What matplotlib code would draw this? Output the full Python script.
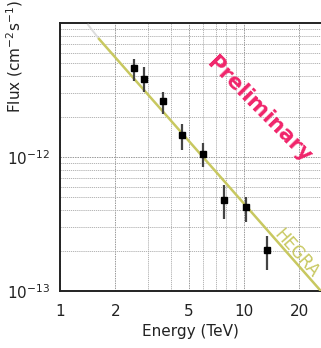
import numpy as np
import matplotlib.pyplot as plt
from matplotlib.ticker import FixedLocator, NullFormatter

plt.rcParams['font.family'] = ['DejaVu Sans']
plt.rcParams['mathtext.default'] = 'regular'

# === data ===
energy = [2.52, 2.86, 3.63, 4.60, 5.98, 7.79, 10.25, 13.3]           # TeV
flux = [4.65e-12, 3.82e-12, 2.62e-12, 1.46e-12, 1.05e-12, 4.75e-13, 4.20e-13, 2.03e-13]
flux_hi = [5.4e-12, 4.67e-12, 3.08e-12, 1.77e-12, 1.28e-12, 6.16e-13, 5.0e-13, 2.59e-13]
flux_lo = [3.66e-12, 3.08e-12, 2.10e-12, 1.13e-12, 8.4e-13, 3.42e-13, 3.25e-13, 1.44e-13]

# HEGRA power law (end points)
hegra_E = [1.63, 26.5]
hegra_flux = [7.6e-12, 0.98e-13]
hegra_fade_E = [1.42, 1.63]
hegra_fade_flux = [9.7e-12, 7.6e-12]

x_ticks = [1, 2, 5, 10, 20]
x_minor = [3, 4, 6, 7, 8, 9]
y_ticks = [1e-13, 1e-12]
y_ticklabels = ['10$^{-13}$', '10$^{-12}$']

fig = plt.figure(figsize=(3.21, 3.48), dpi=100)
ax = fig.add_axes([60 / 321, 57 / 348, 261 / 321, 268 / 348])
ax.set_xscale('log')
ax.set_yscale('log')
ax.set_xlim(1, 26.2)
ax.set_ylim(1e-13, 1e-11)

# === grid ===
ax.xaxis.set_major_locator(FixedLocator(x_ticks))
ax.xaxis.set_minor_locator(FixedLocator(x_minor))
ax.set_xticklabels([str(t) for t in x_ticks])
ax.xaxis.set_minor_formatter(NullFormatter())
ax.yaxis.set_major_locator(FixedLocator(y_ticks))
ax.set_yticklabels(y_ticklabels)
ax.yaxis.set_minor_formatter(NullFormatter())
ax.grid(True, which='major', color='#999999', linestyle=(0, (1.5, 1)), linewidth=0.7)
ax.grid(True, which='minor', color='#aaaaaa', linestyle=(0, (1.5, 1)), linewidth=0.6)
ax.tick_params(which='both', length=0)
ax.tick_params(axis='x', pad=9, labelsize=11, colors='#222222')
ax.tick_params(axis='y', pad=7, labelsize=11, colors='#222222')

for side in ['left', 'bottom', 'top']:
    ax.spines[side].set_color('#222222')
    ax.spines[side].set_linewidth(1.4)
ax.spines['right'].set_visible(False)

# === HEGRA line ===
ax.plot(hegra_fade_E, hegra_fade_flux, color='#dddddd', lw=1.4, zorder=3)
ax.plot(hegra_E, hegra_flux, color='#c8c860', lw=1.8, zorder=3, clip_on=True)

# === data points ===
yerr = [np.array(flux) - np.array(flux_lo), np.array(flux_hi) - np.array(flux)]
ax.errorbar(energy, flux, yerr=yerr, fmt='s', color='black', markersize=4.5,
            ecolor='#444444', elinewidth=1.6, capsize=0, zorder=4)

ax.text(0.905, 0.14, 'HEGRA', transform=ax.transAxes, color='#c8c860', fontsize=12,
        rotation=-48.6, ha='center', va='center', rotation_mode='anchor')
ax.text(0.762, 0.675, 'Preliminary', transform=ax.transAxes, color='#f0246a',
        fontsize=15.5, fontweight='bold', rotation=-45.5, ha='center', va='center',
        rotation_mode='anchor')

ax.set_xlabel('Energy (TeV)', fontsize=11, color='#222222', labelpad=4)
ax.set_ylabel('Flux (cm$^{-2}$s$^{-1}$)', fontsize=11, color='#222222')
ax.yaxis.set_label_coords(-0.134, 0.875)

fig.savefig('out.png', dpi=100)
